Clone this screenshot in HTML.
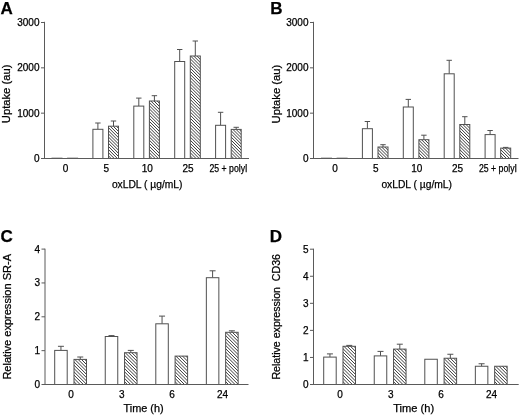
<!DOCTYPE html>
<html><head><meta charset="utf-8"><style>
html,body{margin:0;padding:0;background:#fff;}
body{width:520px;height:415px;overflow:hidden;}
svg{display:block;will-change:transform;filter:blur(0.35px);}
text{font-family:"Liberation Sans",sans-serif;fill:#000;stroke:#000;stroke-width:0.25px;}
.t{font-size:10px;}
.xt{font-size:10.6px;}
.yt{font-size:10.8px;}
.L{font-size:17px;font-weight:bold;}
.a{stroke:#5a5a5a;stroke-width:1;fill:none;}
.b{stroke:#505050;stroke-width:1;}
.e{stroke:#505050;stroke-width:1;}
.h{stroke:#3a3a3a;stroke-width:1.0;fill:none;}
</style></head><body>
<svg width="520" height="415" viewBox="0 0 520 415">
<rect width="520" height="415" fill="#fff"/>
<rect x="52" y="158.2" width="10" height="0.3" fill="#fff" class="b"/>
<rect x="67.6" y="158.2" width="10" height="0.3" fill="#fff" class="b"/>
<line x1="97.9" y1="123" x2="97.9" y2="129.3" class="e"/>
<line x1="95.2" y1="123" x2="100.6" y2="123" class="e"/>
<rect x="92.9" y="129.3" width="10" height="29.2" fill="#fff" class="b"/>
<line x1="113.5" y1="121" x2="113.5" y2="126.2" class="e"/>
<line x1="110.8" y1="121" x2="116.2" y2="121" class="e"/>
<clipPath id="c1"><rect x="108.5" y="126.2" width="10" height="32.3"/></clipPath>
<rect x="108.5" y="126.2" width="10" height="32.3" fill="#fff"/>
<path d="M107,110.55L120,123.55M107,113.68L120,126.68M107,116.81L120,129.81M107,119.94L120,132.94M107,123.07L120,136.07M107,126.2L120,139.2M107,129.33L120,142.33M107,132.46L120,145.46M107,135.59L120,148.59M107,138.72L120,151.72M107,141.85L120,154.85M107,144.98L120,157.98M107,148.11L120,161.11M107,151.24L120,164.24M107,154.37L120,167.37M107,157.5L120,170.5" class="h" clip-path="url(#c1)"/>
<rect x="108.5" y="126.2" width="10" height="32.3" fill="none" class="b"/>
<line x1="138.8" y1="98.1" x2="138.8" y2="106.1" class="e"/>
<line x1="136.1" y1="98.1" x2="141.5" y2="98.1" class="e"/>
<rect x="133.8" y="106.1" width="10" height="52.4" fill="#fff" class="b"/>
<line x1="154.4" y1="95.7" x2="154.4" y2="101" class="e"/>
<line x1="151.7" y1="95.7" x2="157.1" y2="95.7" class="e"/>
<clipPath id="c2"><rect x="149.4" y="101" width="10" height="57.5"/></clipPath>
<rect x="149.4" y="101" width="10" height="57.5" fill="#fff"/>
<path d="M147.9,85.51L160.9,98.51M147.9,88.64L160.9,101.64M147.9,91.77L160.9,104.77M147.9,94.9L160.9,107.9M147.9,98.03L160.9,111.03M147.9,101.16L160.9,114.16M147.9,104.29L160.9,117.29M147.9,107.42L160.9,120.42M147.9,110.55L160.9,123.55M147.9,113.68L160.9,126.68M147.9,116.81L160.9,129.81M147.9,119.94L160.9,132.94M147.9,123.07L160.9,136.07M147.9,126.2L160.9,139.2M147.9,129.33L160.9,142.33M147.9,132.46L160.9,145.46M147.9,135.59L160.9,148.59M147.9,138.72L160.9,151.72M147.9,141.85L160.9,154.85M147.9,144.98L160.9,157.98M147.9,148.11L160.9,161.11M147.9,151.24L160.9,164.24M147.9,154.37L160.9,167.37M147.9,157.5L160.9,170.5" class="h" clip-path="url(#c2)"/>
<rect x="149.4" y="101" width="10" height="57.5" fill="none" class="b"/>
<line x1="179.7" y1="49.5" x2="179.7" y2="61.5" class="e"/>
<line x1="177" y1="49.5" x2="182.4" y2="49.5" class="e"/>
<rect x="174.7" y="61.5" width="10" height="97" fill="#fff" class="b"/>
<line x1="195.3" y1="41" x2="195.3" y2="56" class="e"/>
<line x1="192.6" y1="41" x2="198" y2="41" class="e"/>
<clipPath id="c3"><rect x="190.3" y="56" width="10" height="102.5"/></clipPath>
<rect x="190.3" y="56" width="10" height="102.5" fill="#fff"/>
<path d="M188.8,38.56L201.8,51.56M188.8,41.69L201.8,54.69M188.8,44.82L201.8,57.82M188.8,47.95L201.8,60.95M188.8,51.08L201.8,64.08M188.8,54.21L201.8,67.21M188.8,57.34L201.8,70.34M188.8,60.47L201.8,73.47M188.8,63.6L201.8,76.6M188.8,66.73L201.8,79.73M188.8,69.86L201.8,82.86M188.8,72.99L201.8,85.99M188.8,76.12L201.8,89.12M188.8,79.25L201.8,92.25M188.8,82.38L201.8,95.38M188.8,85.51L201.8,98.51M188.8,88.64L201.8,101.64M188.8,91.77L201.8,104.77M188.8,94.9L201.8,107.9M188.8,98.03L201.8,111.03M188.8,101.16L201.8,114.16M188.8,104.29L201.8,117.29M188.8,107.42L201.8,120.42M188.8,110.55L201.8,123.55M188.8,113.68L201.8,126.68M188.8,116.81L201.8,129.81M188.8,119.94L201.8,132.94M188.8,123.07L201.8,136.07M188.8,126.2L201.8,139.2M188.8,129.33L201.8,142.33M188.8,132.46L201.8,145.46M188.8,135.59L201.8,148.59M188.8,138.72L201.8,151.72M188.8,141.85L201.8,154.85M188.8,144.98L201.8,157.98M188.8,148.11L201.8,161.11M188.8,151.24L201.8,164.24M188.8,154.37L201.8,167.37M188.8,157.5L201.8,170.5" class="h" clip-path="url(#c3)"/>
<rect x="190.3" y="56" width="10" height="102.5" fill="none" class="b"/>
<line x1="220.6" y1="112.3" x2="220.6" y2="125.3" class="e"/>
<line x1="217.9" y1="112.3" x2="223.3" y2="112.3" class="e"/>
<rect x="215.6" y="125.3" width="10" height="33.2" fill="#fff" class="b"/>
<line x1="236.2" y1="127.3" x2="236.2" y2="129.4" class="e"/>
<line x1="233.5" y1="127.3" x2="238.9" y2="127.3" class="e"/>
<clipPath id="c4"><rect x="231.2" y="129.4" width="10" height="29.1"/></clipPath>
<rect x="231.2" y="129.4" width="10" height="29.1" fill="#fff"/>
<path d="M229.7,113.68L242.7,126.68M229.7,116.81L242.7,129.81M229.7,119.94L242.7,132.94M229.7,123.07L242.7,136.07M229.7,126.2L242.7,139.2M229.7,129.33L242.7,142.33M229.7,132.46L242.7,145.46M229.7,135.59L242.7,148.59M229.7,138.72L242.7,151.72M229.7,141.85L242.7,154.85M229.7,144.98L242.7,157.98M229.7,148.11L242.7,161.11M229.7,151.24L242.7,164.24M229.7,154.37L242.7,167.37M229.7,157.5L242.7,170.5" class="h" clip-path="url(#c4)"/>
<rect x="231.2" y="129.4" width="10" height="29.1" fill="none" class="b"/>
<line x1="44.5" y1="21.8" x2="44.5" y2="159" class="a"/>
<line x1="44" y1="158.5" x2="249" y2="158.5" class="a"/>
<line x1="41" y1="158.5" x2="44.5" y2="158.5" class="a"/>
<text x="39.5" y="161.9" class="t" text-anchor="end">0</text>
<line x1="41" y1="113.17" x2="44.5" y2="113.17" class="a"/>
<text x="39.5" y="116.57" class="t" text-anchor="end">1000</text>
<line x1="41" y1="67.84" x2="44.5" y2="67.84" class="a"/>
<text x="39.5" y="71.24" class="t" text-anchor="end">2000</text>
<line x1="41" y1="22.51" x2="44.5" y2="22.51" class="a"/>
<text x="39.5" y="25.91" class="t" text-anchor="end">3000</text>
<text x="65.6" y="171.8" class="t" text-anchor="middle" xml:space="preserve">0</text>
<text x="106.3" y="171.8" class="t" text-anchor="middle" xml:space="preserve">5</text>
<text x="147.2" y="171.8" class="t" text-anchor="middle" xml:space="preserve">10</text>
<text x="188.1" y="171.8" class="t" text-anchor="middle" xml:space="preserve">25</text>
<text x="228.5" y="171.8" class="t" text-anchor="middle" xml:space="preserve" textLength="38" lengthAdjust="spacingAndGlyphs">25 + polyI</text>
<text x="111.9" y="187.6" class="xt" textLength="70.6" lengthAdjust="spacingAndGlyphs" xml:space="preserve">oxLDL ( µg/mL)</text>
<text transform="translate(9.8,123.2) rotate(-90)" x="0" y="0" class="yt" textLength="58.6" lengthAdjust="spacingAndGlyphs" xml:space="preserve">Uptake (au)</text>
<text x="0.6" y="14.2" class="L">A</text>
<rect x="321.5" y="158.2" width="10" height="0.3" fill="#fff" class="b"/>
<rect x="337.1" y="158.2" width="10" height="0.3" fill="#fff" class="b"/>
<line x1="367.4" y1="121.5" x2="367.4" y2="128.7" class="e"/>
<line x1="364.7" y1="121.5" x2="370.1" y2="121.5" class="e"/>
<rect x="362.4" y="128.7" width="10" height="29.8" fill="#fff" class="b"/>
<line x1="383" y1="144.7" x2="383" y2="147" class="e"/>
<line x1="380.3" y1="144.7" x2="385.7" y2="144.7" class="e"/>
<clipPath id="c5"><rect x="378" y="147" width="10" height="11.5"/></clipPath>
<rect x="378" y="147" width="10" height="11.5" fill="#fff"/>
<path d="M376.5,129.33L389.5,142.33M376.5,132.46L389.5,145.46M376.5,135.59L389.5,148.59M376.5,138.72L389.5,151.72M376.5,141.85L389.5,154.85M376.5,144.98L389.5,157.98M376.5,148.11L389.5,161.11M376.5,151.24L389.5,164.24M376.5,154.37L389.5,167.37M376.5,157.5L389.5,170.5" class="h" clip-path="url(#c5)"/>
<rect x="378" y="147" width="10" height="11.5" fill="none" class="b"/>
<line x1="408.3" y1="99.4" x2="408.3" y2="107" class="e"/>
<line x1="405.6" y1="99.4" x2="411" y2="99.4" class="e"/>
<rect x="403.3" y="107" width="10" height="51.5" fill="#fff" class="b"/>
<line x1="423.9" y1="135.2" x2="423.9" y2="139.7" class="e"/>
<line x1="421.2" y1="135.2" x2="426.6" y2="135.2" class="e"/>
<clipPath id="c6"><rect x="418.9" y="139.7" width="10" height="18.8"/></clipPath>
<rect x="418.9" y="139.7" width="10" height="18.8" fill="#fff"/>
<path d="M417.4,123.07L430.4,136.07M417.4,126.2L430.4,139.2M417.4,129.33L430.4,142.33M417.4,132.46L430.4,145.46M417.4,135.59L430.4,148.59M417.4,138.72L430.4,151.72M417.4,141.85L430.4,154.85M417.4,144.98L430.4,157.98M417.4,148.11L430.4,161.11M417.4,151.24L430.4,164.24M417.4,154.37L430.4,167.37M417.4,157.5L430.4,170.5" class="h" clip-path="url(#c6)"/>
<rect x="418.9" y="139.7" width="10" height="18.8" fill="none" class="b"/>
<line x1="449.2" y1="60.3" x2="449.2" y2="73.8" class="e"/>
<line x1="446.5" y1="60.3" x2="451.9" y2="60.3" class="e"/>
<rect x="444.2" y="73.8" width="10" height="84.7" fill="#fff" class="b"/>
<line x1="464.8" y1="116.7" x2="464.8" y2="124.5" class="e"/>
<line x1="462.1" y1="116.7" x2="467.5" y2="116.7" class="e"/>
<clipPath id="c7"><rect x="459.8" y="124.5" width="10" height="34"/></clipPath>
<rect x="459.8" y="124.5" width="10" height="34" fill="#fff"/>
<path d="M458.3,107.42L471.3,120.42M458.3,110.55L471.3,123.55M458.3,113.68L471.3,126.68M458.3,116.81L471.3,129.81M458.3,119.94L471.3,132.94M458.3,123.07L471.3,136.07M458.3,126.2L471.3,139.2M458.3,129.33L471.3,142.33M458.3,132.46L471.3,145.46M458.3,135.59L471.3,148.59M458.3,138.72L471.3,151.72M458.3,141.85L471.3,154.85M458.3,144.98L471.3,157.98M458.3,148.11L471.3,161.11M458.3,151.24L471.3,164.24M458.3,154.37L471.3,167.37M458.3,157.5L471.3,170.5" class="h" clip-path="url(#c7)"/>
<rect x="459.8" y="124.5" width="10" height="34" fill="none" class="b"/>
<line x1="490.1" y1="130.5" x2="490.1" y2="134.6" class="e"/>
<line x1="487.4" y1="130.5" x2="492.8" y2="130.5" class="e"/>
<rect x="485.1" y="134.6" width="10" height="23.9" fill="#fff" class="b"/>
<line x1="505.7" y1="147.4" x2="505.7" y2="148.1" class="e"/>
<line x1="503" y1="147.4" x2="508.4" y2="147.4" class="e"/>
<clipPath id="c8"><rect x="500.7" y="148.1" width="10" height="10.4"/></clipPath>
<rect x="500.7" y="148.1" width="10" height="10.4" fill="#fff"/>
<path d="M499.2,132.46L512.2,145.46M499.2,135.59L512.2,148.59M499.2,138.72L512.2,151.72M499.2,141.85L512.2,154.85M499.2,144.98L512.2,157.98M499.2,148.11L512.2,161.11M499.2,151.24L512.2,164.24M499.2,154.37L512.2,167.37M499.2,157.5L512.2,170.5" class="h" clip-path="url(#c8)"/>
<rect x="500.7" y="148.1" width="10" height="10.4" fill="none" class="b"/>
<line x1="313.5" y1="21.8" x2="313.5" y2="159" class="a"/>
<line x1="313" y1="158.5" x2="518.5" y2="158.5" class="a"/>
<line x1="310" y1="158.5" x2="313.5" y2="158.5" class="a"/>
<text x="308.5" y="161.9" class="t" text-anchor="end">0</text>
<line x1="310" y1="113.17" x2="313.5" y2="113.17" class="a"/>
<text x="308.5" y="116.57" class="t" text-anchor="end">1000</text>
<line x1="310" y1="67.84" x2="313.5" y2="67.84" class="a"/>
<text x="308.5" y="71.24" class="t" text-anchor="end">2000</text>
<line x1="310" y1="22.51" x2="313.5" y2="22.51" class="a"/>
<text x="308.5" y="25.91" class="t" text-anchor="end">3000</text>
<text x="335.1" y="171.8" class="t" text-anchor="middle" xml:space="preserve">0</text>
<text x="375.8" y="171.8" class="t" text-anchor="middle" xml:space="preserve">5</text>
<text x="416.7" y="171.8" class="t" text-anchor="middle" xml:space="preserve">10</text>
<text x="457.6" y="171.8" class="t" text-anchor="middle" xml:space="preserve">25</text>
<text x="498" y="171.8" class="t" text-anchor="middle" xml:space="preserve" textLength="38" lengthAdjust="spacingAndGlyphs">25 + polyI</text>
<text x="381.4" y="187.6" class="xt" textLength="70.6" lengthAdjust="spacingAndGlyphs" xml:space="preserve">oxLDL ( µg/mL)</text>
<text transform="translate(280.2,123.4) rotate(-90)" x="0" y="0" class="yt" textLength="58.6" lengthAdjust="spacingAndGlyphs" xml:space="preserve">Uptake (au)</text>
<text x="270.3" y="14.2" class="L">B</text>
<line x1="60.95" y1="346.3" x2="60.95" y2="350.4" class="e"/>
<line x1="57.95" y1="346.3" x2="63.95" y2="346.3" class="e"/>
<rect x="54.7" y="350.4" width="12.5" height="34.1" fill="#fff" class="b"/>
<line x1="80.25" y1="357" x2="80.25" y2="359.4" class="e"/>
<line x1="77.25" y1="357" x2="83.25" y2="357" class="e"/>
<clipPath id="c9"><rect x="74" y="359.4" width="12.5" height="25.1"/></clipPath>
<rect x="74" y="359.4" width="12.5" height="25.1" fill="#fff"/>
<path d="M72.5,340.6L88,356.1M72.5,343.9L88,359.4M72.5,347.2L88,362.7M72.5,350.5L88,366M72.5,353.8L88,369.3M72.5,357.1L88,372.6M72.5,360.4L88,375.9M72.5,363.7L88,379.2M72.5,367L88,382.5M72.5,370.3L88,385.8M72.5,373.6L88,389.1M72.5,376.9L88,392.4M72.5,380.2L88,395.7M72.5,383.5L88,399" class="h" clip-path="url(#c9)"/>
<rect x="74" y="359.4" width="12.5" height="25.1" fill="none" class="b"/>
<line x1="111.5" y1="335.6" x2="111.5" y2="336.5" class="e"/>
<line x1="108.5" y1="335.6" x2="114.5" y2="335.6" class="e"/>
<rect x="105.25" y="336.5" width="12.5" height="48" fill="#fff" class="b"/>
<line x1="130.8" y1="350.4" x2="130.8" y2="352.7" class="e"/>
<line x1="127.8" y1="350.4" x2="133.8" y2="350.4" class="e"/>
<clipPath id="c10"><rect x="124.55" y="352.7" width="12.5" height="31.8"/></clipPath>
<rect x="124.55" y="352.7" width="12.5" height="31.8" fill="#fff"/>
<path d="M123.05,334L138.55,349.5M123.05,337.3L138.55,352.8M123.05,340.6L138.55,356.1M123.05,343.9L138.55,359.4M123.05,347.2L138.55,362.7M123.05,350.5L138.55,366M123.05,353.8L138.55,369.3M123.05,357.1L138.55,372.6M123.05,360.4L138.55,375.9M123.05,363.7L138.55,379.2M123.05,367L138.55,382.5M123.05,370.3L138.55,385.8M123.05,373.6L138.55,389.1M123.05,376.9L138.55,392.4M123.05,380.2L138.55,395.7M123.05,383.5L138.55,399" class="h" clip-path="url(#c10)"/>
<rect x="124.55" y="352.7" width="12.5" height="31.8" fill="none" class="b"/>
<line x1="162.05" y1="316.1" x2="162.05" y2="323.8" class="e"/>
<line x1="159.05" y1="316.1" x2="165.05" y2="316.1" class="e"/>
<rect x="155.8" y="323.8" width="12.5" height="60.7" fill="#fff" class="b"/>
<clipPath id="c11"><rect x="175.1" y="356.1" width="12.5" height="28.4"/></clipPath>
<rect x="175.1" y="356.1" width="12.5" height="28.4" fill="#fff"/>
<path d="M173.6,337.3L189.1,352.8M173.6,340.6L189.1,356.1M173.6,343.9L189.1,359.4M173.6,347.2L189.1,362.7M173.6,350.5L189.1,366M173.6,353.8L189.1,369.3M173.6,357.1L189.1,372.6M173.6,360.4L189.1,375.9M173.6,363.7L189.1,379.2M173.6,367L189.1,382.5M173.6,370.3L189.1,385.8M173.6,373.6L189.1,389.1M173.6,376.9L189.1,392.4M173.6,380.2L189.1,395.7M173.6,383.5L189.1,399" class="h" clip-path="url(#c11)"/>
<rect x="175.1" y="356.1" width="12.5" height="28.4" fill="none" class="b"/>
<line x1="212.6" y1="270.8" x2="212.6" y2="277.7" class="e"/>
<line x1="209.6" y1="270.8" x2="215.6" y2="270.8" class="e"/>
<rect x="206.35" y="277.7" width="12.5" height="106.8" fill="#fff" class="b"/>
<line x1="231.9" y1="330.8" x2="231.9" y2="332.3" class="e"/>
<line x1="228.9" y1="330.8" x2="234.9" y2="330.8" class="e"/>
<clipPath id="c12"><rect x="225.65" y="332.3" width="12.5" height="52.2"/></clipPath>
<rect x="225.65" y="332.3" width="12.5" height="52.2" fill="#fff"/>
<path d="M224.15,314.2L239.65,329.7M224.15,317.5L239.65,333M224.15,320.8L239.65,336.3M224.15,324.1L239.65,339.6M224.15,327.4L239.65,342.9M224.15,330.7L239.65,346.2M224.15,334L239.65,349.5M224.15,337.3L239.65,352.8M224.15,340.6L239.65,356.1M224.15,343.9L239.65,359.4M224.15,347.2L239.65,362.7M224.15,350.5L239.65,366M224.15,353.8L239.65,369.3M224.15,357.1L239.65,372.6M224.15,360.4L239.65,375.9M224.15,363.7L239.65,379.2M224.15,367L239.65,382.5M224.15,370.3L239.65,385.8M224.15,373.6L239.65,389.1M224.15,376.9L239.65,392.4M224.15,380.2L239.65,395.7M224.15,383.5L239.65,399" class="h" clip-path="url(#c12)"/>
<rect x="225.65" y="332.3" width="12.5" height="52.2" fill="none" class="b"/>
<line x1="45" y1="248.7" x2="45" y2="385" class="a"/>
<line x1="44.5" y1="384.5" x2="248.5" y2="384.5" class="a"/>
<line x1="41.5" y1="384.5" x2="45" y2="384.5" class="a"/>
<text x="40" y="387.9" class="t" text-anchor="end">0</text>
<line x1="41.5" y1="350.65" x2="45" y2="350.65" class="a"/>
<text x="40" y="354.05" class="t" text-anchor="end">1</text>
<line x1="41.5" y1="316.8" x2="45" y2="316.8" class="a"/>
<text x="40" y="320.2" class="t" text-anchor="end">2</text>
<line x1="41.5" y1="282.95" x2="45" y2="282.95" class="a"/>
<text x="40" y="286.35" class="t" text-anchor="end">3</text>
<line x1="41.5" y1="249.1" x2="45" y2="249.1" class="a"/>
<text x="40" y="252.5" class="t" text-anchor="end">4</text>
<text x="71.1" y="397.8" class="t" text-anchor="middle" xml:space="preserve">0</text>
<text x="121.75" y="397.8" class="t" text-anchor="middle" xml:space="preserve">3</text>
<text x="172.1" y="397.8" class="t" text-anchor="middle" xml:space="preserve">6</text>
<text x="222.45" y="397.8" class="t" text-anchor="middle" xml:space="preserve">24</text>
<text x="123.5" y="411.6" class="xt" textLength="40.2" lengthAdjust="spacingAndGlyphs" xml:space="preserve">Time (h)</text>
<text transform="translate(10.6,379.6) rotate(-90)" x="0" y="0" class="yt" textLength="125.6" lengthAdjust="spacingAndGlyphs" xml:space="preserve">Relative expression SR-A</text>
<text x="0.6" y="241.8" class="L">C</text>
<line x1="329.95" y1="353.9" x2="329.95" y2="357.1" class="e"/>
<line x1="326.95" y1="353.9" x2="332.95" y2="353.9" class="e"/>
<rect x="323.7" y="357.1" width="12.5" height="27.4" fill="#fff" class="b"/>
<line x1="349.25" y1="345.4" x2="349.25" y2="346.3" class="e"/>
<line x1="346.25" y1="345.4" x2="352.25" y2="345.4" class="e"/>
<clipPath id="c13"><rect x="343" y="346.3" width="12.5" height="38.2"/></clipPath>
<rect x="343" y="346.3" width="12.5" height="38.2" fill="#fff"/>
<path d="M341.5,327.4L357,342.9M341.5,330.7L357,346.2M341.5,334L357,349.5M341.5,337.3L357,352.8M341.5,340.6L357,356.1M341.5,343.9L357,359.4M341.5,347.2L357,362.7M341.5,350.5L357,366M341.5,353.8L357,369.3M341.5,357.1L357,372.6M341.5,360.4L357,375.9M341.5,363.7L357,379.2M341.5,367L357,382.5M341.5,370.3L357,385.8M341.5,373.6L357,389.1M341.5,376.9L357,392.4M341.5,380.2L357,395.7M341.5,383.5L357,399" class="h" clip-path="url(#c13)"/>
<rect x="343" y="346.3" width="12.5" height="38.2" fill="none" class="b"/>
<line x1="380.5" y1="351.4" x2="380.5" y2="355.9" class="e"/>
<line x1="377.5" y1="351.4" x2="383.5" y2="351.4" class="e"/>
<rect x="374.25" y="355.9" width="12.5" height="28.6" fill="#fff" class="b"/>
<line x1="399.8" y1="344.2" x2="399.8" y2="349.1" class="e"/>
<line x1="396.8" y1="344.2" x2="402.8" y2="344.2" class="e"/>
<clipPath id="c14"><rect x="393.55" y="349.1" width="12.5" height="35.4"/></clipPath>
<rect x="393.55" y="349.1" width="12.5" height="35.4" fill="#fff"/>
<path d="M392.05,330.7L407.55,346.2M392.05,334L407.55,349.5M392.05,337.3L407.55,352.8M392.05,340.6L407.55,356.1M392.05,343.9L407.55,359.4M392.05,347.2L407.55,362.7M392.05,350.5L407.55,366M392.05,353.8L407.55,369.3M392.05,357.1L407.55,372.6M392.05,360.4L407.55,375.9M392.05,363.7L407.55,379.2M392.05,367L407.55,382.5M392.05,370.3L407.55,385.8M392.05,373.6L407.55,389.1M392.05,376.9L407.55,392.4M392.05,380.2L407.55,395.7M392.05,383.5L407.55,399" class="h" clip-path="url(#c14)"/>
<rect x="393.55" y="349.1" width="12.5" height="35.4" fill="none" class="b"/>
<rect x="424.8" y="359.25" width="12.5" height="25.25" fill="#fff" class="b"/>
<line x1="450.35" y1="354.25" x2="450.35" y2="358.25" class="e"/>
<line x1="447.35" y1="354.25" x2="453.35" y2="354.25" class="e"/>
<clipPath id="c15"><rect x="444.1" y="358.25" width="12.5" height="26.25"/></clipPath>
<rect x="444.1" y="358.25" width="12.5" height="26.25" fill="#fff"/>
<path d="M442.6,340.6L458.1,356.1M442.6,343.9L458.1,359.4M442.6,347.2L458.1,362.7M442.6,350.5L458.1,366M442.6,353.8L458.1,369.3M442.6,357.1L458.1,372.6M442.6,360.4L458.1,375.9M442.6,363.7L458.1,379.2M442.6,367L458.1,382.5M442.6,370.3L458.1,385.8M442.6,373.6L458.1,389.1M442.6,376.9L458.1,392.4M442.6,380.2L458.1,395.7M442.6,383.5L458.1,399" class="h" clip-path="url(#c15)"/>
<rect x="444.1" y="358.25" width="12.5" height="26.25" fill="none" class="b"/>
<line x1="481.6" y1="363.75" x2="481.6" y2="366.25" class="e"/>
<line x1="478.6" y1="363.75" x2="484.6" y2="363.75" class="e"/>
<rect x="475.35" y="366.25" width="12.5" height="18.25" fill="#fff" class="b"/>
<clipPath id="c16"><rect x="494.65" y="366.25" width="12.5" height="18.25"/></clipPath>
<rect x="494.65" y="366.25" width="12.5" height="18.25" fill="#fff"/>
<path d="M493.15,347.2L508.65,362.7M493.15,350.5L508.65,366M493.15,353.8L508.65,369.3M493.15,357.1L508.65,372.6M493.15,360.4L508.65,375.9M493.15,363.7L508.65,379.2M493.15,367L508.65,382.5M493.15,370.3L508.65,385.8M493.15,373.6L508.65,389.1M493.15,376.9L508.65,392.4M493.15,380.2L508.65,395.7M493.15,383.5L508.65,399" class="h" clip-path="url(#c16)"/>
<rect x="494.65" y="366.25" width="12.5" height="18.25" fill="none" class="b"/>
<line x1="313.5" y1="248.7" x2="313.5" y2="385" class="a"/>
<line x1="313" y1="384.5" x2="518.7" y2="384.5" class="a"/>
<line x1="310" y1="384.5" x2="313.5" y2="384.5" class="a"/>
<text x="308.5" y="387.9" class="t" text-anchor="end">0</text>
<line x1="310" y1="357.44" x2="313.5" y2="357.44" class="a"/>
<text x="308.5" y="360.84" class="t" text-anchor="end">1</text>
<line x1="310" y1="330.38" x2="313.5" y2="330.38" class="a"/>
<text x="308.5" y="333.78" class="t" text-anchor="end">2</text>
<line x1="310" y1="303.32" x2="313.5" y2="303.32" class="a"/>
<text x="308.5" y="306.72" class="t" text-anchor="end">3</text>
<line x1="310" y1="276.26" x2="313.5" y2="276.26" class="a"/>
<text x="308.5" y="279.66" class="t" text-anchor="end">4</text>
<line x1="310" y1="249.2" x2="313.5" y2="249.2" class="a"/>
<text x="308.5" y="252.6" class="t" text-anchor="end">5</text>
<text x="340.1" y="397.8" class="t" text-anchor="middle" xml:space="preserve">0</text>
<text x="390.75" y="397.8" class="t" text-anchor="middle" xml:space="preserve">3</text>
<text x="441.1" y="397.8" class="t" text-anchor="middle" xml:space="preserve">6</text>
<text x="491.45" y="397.8" class="t" text-anchor="middle" xml:space="preserve">24</text>
<text x="393.2" y="411.8" class="xt" textLength="41" lengthAdjust="spacingAndGlyphs" xml:space="preserve">Time (h)</text>
<text transform="translate(280.2,379.6) rotate(-90)" x="0" y="0" class="yt" textLength="125.6" lengthAdjust="spacingAndGlyphs" xml:space="preserve">Relative expression  CD36</text>
<text x="269.8" y="242.3" class="L">D</text>
</svg>
</body></html>
